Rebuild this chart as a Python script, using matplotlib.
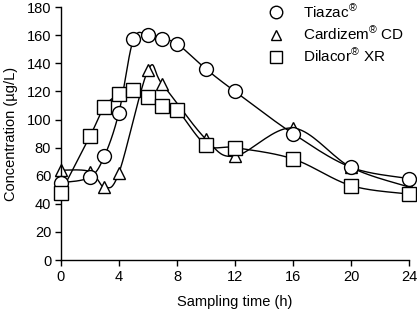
import numpy as np
import matplotlib
matplotlib.use("Agg")
import matplotlib.pyplot as plt
from matplotlib.lines import Line2D

plt.rcParams["font.family"] = ["Liberation Sans", "DejaVu Sans"]
plt.rcParams["mathtext.fontset"] = "custom"
plt.rcParams["mathtext.rm"] = "Liberation Sans"
plt.rcParams["mathtext.it"] = "Liberation Sans:italic"
plt.rcParams["mathtext.bf"] = "Liberation Sans:bold"

# ── Data ──────────────────────────────────────────────────────────────────────
tiazac_t = [0, 2, 3, 4, 5, 6, 7, 8, 10, 12, 16, 20, 24]
tiazac_c = [55, 59, 74, 105, 157, 160, 157, 154, 136, 120, 90, 66, 58]

cardizem_t = [0, 2, 3, 4, 6, 7, 10, 12, 16, 20, 24]
cardizem_c = [64, 63, 52, 62, 135, 125, 86, 74, 94, 66, 52]

dilacor_t = [0, 2, 3, 4, 5, 6, 7, 8, 10, 12, 16, 20, 24]
dilacor_c = [48, 88, 109, 118, 121, 116, 110, 107, 82, 80, 72, 53, 47]

x_ticks = [0, 4, 8, 12, 16, 20, 24]
y_ticks = [0, 20, 40, 60, 80, 100, 120, 140, 160, 180]


def smooth(x, y, n=20):
    """Catmull-Rom curve through the points (drawing only)."""
    p = np.column_stack([x, y]).astype(float)
    p = np.vstack([p[0], p, p[-1]])
    out = []
    s = np.linspace(0, 1, n, endpoint=False)
    for i in range(1, len(p) - 2):
        p0, p1, p2, p3 = p[i - 1], p[i], p[i + 1], p[i + 2]
        for u in s:
            out.append(0.5 * ((2 * p1) + (-p0 + p2) * u
                              + (2 * p0 - 5 * p1 + 4 * p2 - p3) * u ** 2
                              + (-p0 + 3 * p1 - 3 * p2 + p3) * u ** 3))
    out.append(p[-2])
    out = np.array(out)
    return out[:, 0], out[:, 1]


fig = plt.figure(figsize=(4.17, 3.10), dpi=100)
ax = fig.add_axes([0.146, 0.161, 0.835, 0.816])

series = [
    (tiazac_t, tiazac_c, "o", 10, 3),
    (cardizem_t, cardizem_c, "^", 8, 2),
    (dilacor_t, dilacor_c, "s", 10, 4),
]
for t, c, m, ms, z in series:
    sx, sy = smooth(t, c)
    ax.plot(sx, sy, color="black", lw=1.0, zorder=1)
    ax.plot(t, c, ls="none", marker=m, ms=ms, mfc="white", mec="black",
            mew=1.0, zorder=z, clip_on=False)

ax.set_xlim(0, 24)
ax.set_ylim(0, 180)
ax.set_xticks(x_ticks)
ax.set_yticks(y_ticks)
ax.spines["top"].set_visible(False)
ax.spines["right"].set_visible(False)
for sp in ("left", "bottom"):
    ax.spines[sp].set_linewidth(1.0)
ax.tick_params(direction="out", length=4, width=1.0, labelsize=10.5, pad=3)
ax.set_xlabel("Sampling time (h)", fontsize=10.5, labelpad=8)
ax.set_ylabel("Concentration (µg/L)", fontsize=10.5, labelpad=6)

handles = [
    Line2D([], [], ls="none", marker="o", ms=9, mfc="white", mec="black"),
    Line2D([], [], ls="none", marker="^", ms=7, mfc="white", mec="black"),
    Line2D([], [], ls="none", marker="s", ms=9, mfc="white", mec="black"),
]
labels = ["Tiazac$^{\u00ae}$", "Cardizem$^{\u00ae}$ CD", "Dilacor$^{\u00ae}$ XR"]
ax.legend(handles, labels, loc="upper left", bbox_to_anchor=(0.555, 1.04),
          frameon=False, fontsize=11, handletextpad=0.8, labelspacing=0.3,
          borderaxespad=0)

fig.savefig("out.png", dpi=100)
